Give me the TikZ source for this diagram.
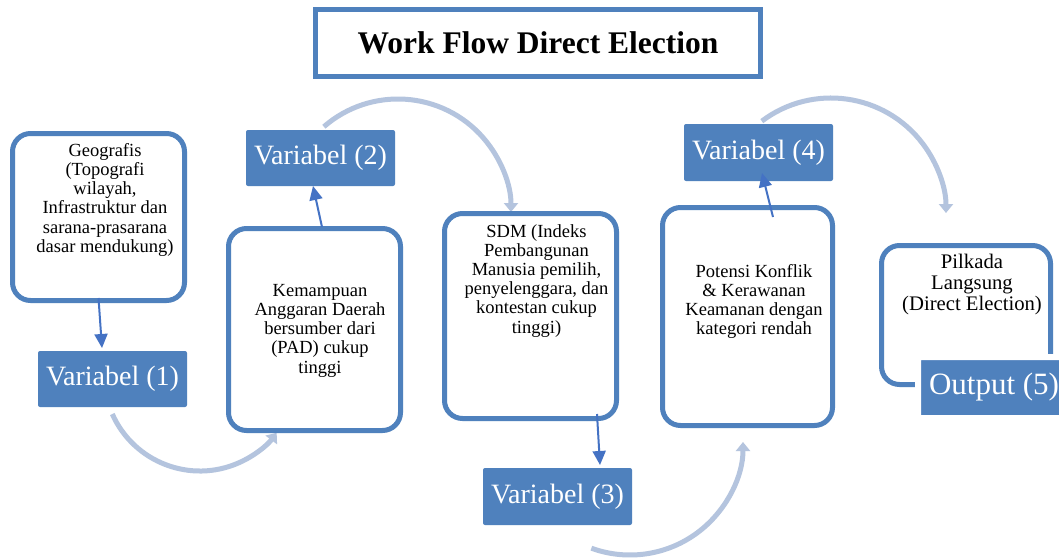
\documentclass[tikz,border=0pt]{standalone}
\usepackage{fontspec}
\setmainfont{Liberation Serif}
\usetikzlibrary{arrows.meta}
\definecolor{boxblue}{RGB}{79,129,189}
\definecolor{arrblue}{RGB}{68,114,196}
\definecolor{arclight}{RGB}{180,196,222}
\begin{document}
\begin{tikzpicture}[x=1pt,y=1pt,
  bx/.style={draw=boxblue, line width=5pt, rounded corners=18pt, outer sep=0pt, inner sep=0pt},
  varbox/.style={fill=boxblue, rounded corners=2pt, outer sep=0pt, inner sep=0pt, text=white,
    minimum width=149pt, minimum height=56pt, font=\fontsize{28}{30}\selectfont},
  txt/.style={align=center, inner sep=0pt, anchor=north, font=\fontsize{18.5}{19.2}\selectfont},
  thinarrow/.style={draw=arrblue, line width=2pt, -{Triangle[length=14pt,width=13pt]}},
  arcarrow/.style={draw=arclight, line width=5pt, -{Triangle[length=9pt,width=14pt]}}
]
\useasboundingbox (0,0) rectangle (1059,-559);
\fill[white] (0,0) rectangle (1059,-559);

% title
\node[draw=boxblue, line width=5pt, minimum width=445pt, minimum height=67pt, inner sep=0pt,
  font=\bfseries\fontsize{31.5}{36}\selectfont] (title) at (538,-43) {Work Flow Direct Election};

% arc centres
\coordinate (c1) at (200,-375);
\coordinate (c2) at (398,-212);
\coordinate (c3) at (630,-442);
\coordinate (c4) at (831,-213);

% light curved arrows
\draw[arcarrow] ([shift={(204:96pt)}]c1) arc[start angle=204, end angle=323, radius=96pt];
\draw[arcarrow] ([shift={(131:113pt)}]c2) arc[start angle=131, end angle=0, radius=113pt];
\draw[arcarrow] ([shift={(250:113pt)}]c3) arc[start angle=250, end angle=360, radius=113pt];
\draw[arcarrow] ([shift={(127:115pt)}]c4) arc[start angle=127, end angle=0, radius=115pt];

% rounded boxes
\node[bx, minimum width=172pt, minimum height=167pt] (box1) at (98.5,-217) {};
\node[bx, minimum width=172pt, minimum height=202pt] (box2) at (314.5,-329.5) {};
\node[bx, minimum width=172pt, minimum height=205pt] (box3) at (530.5,-316) {};
\node[bx, minimum width=170pt, minimum height=218pt] (box4) at (747.5,-316.5) {};
\node[bx, minimum width=169pt, minimum height=139pt] (box5) at (966,-315) {};

% box texts
\node[txt] (t1) at (105,-143) {Geografis\\(Topografi\\wilayah,\\Infrastruktur dan\\sarana-prasarana\\dasar mendukung)};
\node[txt] (t2) at (320,-284) {Kemampuan\\Anggaran Daerah\\bersumber dari\\(PAD) cukup\\tinggi};
\node[txt] (t3) at (536.5,-224) {SDM (Indeks\\Pembangunan\\Manusia pemilih,\\penyelenggara, dan\\kontestan cukup\\tinggi)};
\node[txt] (t4) at (754,-264) {Potensi Konflik\\\& Kerawanan\\Keamanan dengan\\kategori rendah};
\node[txt, font=\fontsize{20.7}{21.2}\selectfont] (t5) at (972,-254) {Pilkada\\Langsung\\(Direct Election)};

% variable boxes
\node[varbox] (v1) at (112.5,-379) {Variabel (1)};
\node[varbox] (v2) at (320.5,-158) {Variabel (2)};
\node[varbox, minimum height=57pt] (v3) at (557.5,-496.5) {Variabel (3)};
\node[varbox, minimum height=57pt] (v4) at (758.5,-152.5) {Variabel (4)};
\node[varbox, draw=white, line width=6pt, minimum width=152pt, minimum height=61pt,
  font=\fontsize{31}{34}\selectfont] (v5) at (994,-387.5) {Output (5)};

% thin arrows
\draw[thinarrow] ([yshift=2.5pt]box1.south) -- ([xshift=-10.5pt,yshift=3pt]v1.north);
\draw[thinarrow] ([xshift=7.5pt,yshift=1.5pt]box2.north) -- ([xshift=-7.5pt]v2.south);
\draw[thinarrow] ([xshift=66.5pt,yshift=4.5pt]box3.south) -- ([xshift=42.5pt,yshift=3pt]v3.north);
\draw[thinarrow] ([xshift=25.5pt,yshift=-9.5pt]box4.north) -- ([xshift=3.5pt,yshift=8pt]v4.south);
\end{tikzpicture}
\end{document}
